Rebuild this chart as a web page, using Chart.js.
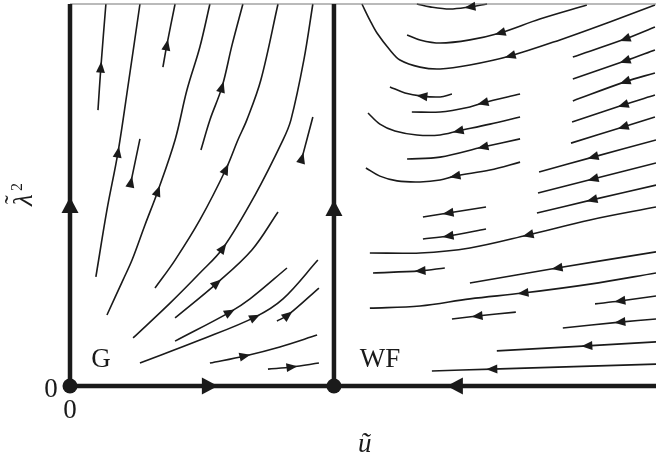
<!DOCTYPE html>
<html lang="en">
<head>
<meta charset="UTF-8" />
<title>RG flow diagram</title>
<script src="https://cdn.jsdelivr.net/npm/chart.js"></script>
<style>
  html, body { margin: 0; padding: 0; background: #fff; }
  #flow { display: block; }
</style>
</head>
<body>
<canvas id="flow" width="656" height="458"></canvas>
<script>
// plot ranges: u-tilde (x) and lambda-tilde squared (y)
const uRange = [0, 2.22];
const lamRange = [0, 1.447];

// fixed points G and WF
const fixedPoints = [[0, 0], [1, 0]];
const fixedNames = ['G', 'WF'];
const tickLabels = ['0', '0'];

// separatrices (middle point carries the arrow)
const axisG = [[0, 0], [0, 0.686], [0, 1.447]];
const axisWF = [[1, 0], [1, 0.674], [1, 1.447]];
const axisULeft = [[0, 0], [0.53, 0], [1, 0]];
const axisURight = [[2.22, 0], [1.458, 0], [1, 0]];
const frameTop = [[0, 1.447], [2.22, 1.447]];

// flow lines between G and WF (ordered along the flow)
const left1 = [[0.106, 1.045], [0.117, 1.208], [0.136, 1.447]];
const left2 = [[0.098, 0.413], [0.140, 0.667], [0.182, 0.886], [0.223, 1.159], [0.265, 1.447]];
const left3 = [[0.352, 1.208], [0.367, 1.292], [0.398, 1.447]];
const left4 = [[0.231, 0.773], [0.265, 0.936]];
const left5 = [[0.140, 0.269], [0.201, 0.402], [0.235, 0.477], [0.284, 0.610], [0.333, 0.739], [0.398, 0.932], [0.443, 1.121], [0.492, 1.284], [0.530, 1.447]];
const left6 = [[0.496, 0.894], [0.530, 1.008], [0.576, 1.133], [0.614, 1.292], [0.655, 1.447]];
const left7 = [[0.322, 0.371], [0.398, 0.477], [0.492, 0.629], [0.591, 0.822], [0.636, 0.932], [0.670, 1.008], [0.723, 1.159], [0.788, 1.447]];
const left8 = [[0.239, 0.182], [0.379, 0.314], [0.492, 0.428], [0.580, 0.523], [0.701, 0.723], [0.807, 0.932], [0.837, 1.008], [0.886, 1.235], [0.920, 1.447]];
const left9 = [[0.879, 0.864], [0.920, 1.019]];
const left10 = [[0.398, 0.258], [0.557, 0.390], [0.689, 0.515], [0.788, 0.659]];
const left11 = [[0.398, 0.170], [0.606, 0.280], [0.682, 0.330], [0.822, 0.447]];
const left12 = [[0.265, 0.087], [0.492, 0.174], [0.701, 0.261], [0.807, 0.330], [0.939, 0.477]];
const left13 = [[0.784, 0.246], [0.826, 0.269], [0.943, 0.371]];
const left14 = [[0.530, 0.087], [0.663, 0.114], [0.795, 0.148], [0.936, 0.193]];
const left15 = [[0.750, 0.064], [0.841, 0.072], [0.943, 0.087]];

// flow lines right of WF (ordered along the flow, right to left)
const right1 = [[1.580, 1.447], [1.515, 1.436], [1.439, 1.428], [1.364, 1.436], [1.314, 1.447]];
const right2 = [[1.958, 1.443], [1.780, 1.390], [1.629, 1.337], [1.515, 1.311], [1.402, 1.299], [1.326, 1.311], [1.277, 1.330]];
const right3 = [[2.216, 1.443], [2.045, 1.379], [1.856, 1.311], [1.667, 1.250], [1.515, 1.216], [1.402, 1.201], [1.326, 1.208], [1.250, 1.235], [1.212, 1.273], [1.163, 1.337], [1.136, 1.386], [1.106, 1.447]];
const right4 = [[1.447, 1.106], [1.402, 1.095], [1.333, 1.098], [1.269, 1.110], [1.212, 1.133]];
const right5 = [[1.705, 1.106], [1.564, 1.072], [1.515, 1.057], [1.402, 1.038], [1.295, 1.038]];
const right6 = [[1.705, 1.019], [1.591, 0.992], [1.470, 0.966], [1.402, 0.951], [1.314, 0.951], [1.231, 0.966], [1.174, 0.992], [1.129, 1.034]];
const right7 = [[1.705, 0.936], [1.564, 0.905], [1.402, 0.867], [1.277, 0.860]];
const right8 = [[2.216, 1.360], [2.102, 1.314], [1.905, 1.246]];
const right9 = [[2.216, 1.273], [2.102, 1.231], [1.905, 1.163]];
const right10 = [[2.216, 1.186], [2.102, 1.152], [1.905, 1.080]];
const right11 = [[2.216, 1.102], [2.095, 1.064], [1.902, 1.000]];
const right12 = [[2.216, 1.019], [2.095, 0.981], [1.898, 0.920]];
const right13 = [[2.220, 0.932], [1.981, 0.867], [1.777, 0.811]];
const right14 = [[2.220, 0.845], [1.981, 0.784], [1.773, 0.731]];
const right15 = [[2.220, 0.761], [1.977, 0.705], [1.769, 0.655]];
const right16 = [[2.220, 0.678], [1.970, 0.629], [1.735, 0.572], [1.515, 0.523], [1.326, 0.504], [1.136, 0.504]];
const right17 = [[1.705, 0.848], [1.591, 0.818], [1.458, 0.795], [1.402, 0.780], [1.326, 0.773], [1.239, 0.777], [1.174, 0.795], [1.121, 0.826]];
const right18 = [[1.576, 0.678], [1.432, 0.655], [1.337, 0.640]];
const right19 = [[1.576, 0.595], [1.432, 0.568], [1.337, 0.557]];
const right20 = [[1.420, 0.447], [1.326, 0.436], [1.148, 0.428]];
const right21 = [[2.220, 0.508], [1.845, 0.447], [1.515, 0.390]];
const right22 = [[2.220, 0.428], [1.970, 0.386], [1.716, 0.352], [1.515, 0.330], [1.326, 0.303], [1.136, 0.295]];
const right23 = [[2.220, 0.341], [2.083, 0.322], [1.989, 0.311]];
const right24 = [[1.689, 0.280], [1.542, 0.265], [1.447, 0.254]];
const right25 = [[2.220, 0.254], [2.083, 0.242], [1.867, 0.220]];
const right26 = [[2.220, 0.167], [1.958, 0.152], [1.617, 0.133]];
const right27 = [[2.220, 0.083], [1.598, 0.064], [1.371, 0.057]];

// [line, index of the point that carries the arrow]
const streams = [
  [left1, 1], [left2, 2], [left3, 1], [left4, 0], [left5, 4], [left6, 2], [left7, 3], [left8, 3],
  [left9, 0], [left10, 1], [left11, 1], [left12, 2], [left13, 1], [left14, 1], [left15, 1],
  [right1, 1], [right2, 2], [right3, 3], [right4, 2], [right5, 1], [right6, 2], [right7, 1],
  [right8, 1], [right9, 1], [right10, 1], [right11, 1], [right12, 1], [right13, 1], [right14, 1],
  [right15, 1], [right16, 2], [right17, 2], [right18, 1], [right19, 1], [right20, 1], [right21, 1],
  [right22, 2], [right23, 1], [right24, 1], [right25, 1], [right26, 1], [right27, 1]
];

const ink = '#1a1a1a';
const toXY = pts => pts.map(([x, y]) => ({ x, y }));

const datasets = [];
datasets.push({
  data: toXY(fixedPoints), showLine: false, pointRadius: 7.5,
  pointBackgroundColor: ink, pointBorderWidth: 0, clip: false
});
[axisG, axisWF, axisULeft, axisURight].forEach(line => {
  datasets.push({
    data: toXY(line), showLine: true, borderColor: ink, borderWidth: 4.5,
    pointRadius: 0, tension: 0, clip: false, arrowAt: 1, arrowLen: 16, arrowHalf: 8.5
  });
});
datasets.push({
  data: toXY(frameTop), showLine: true, borderColor: '#777', borderWidth: 1.2,
  pointRadius: 0, clip: false
});
streams.forEach(([line, a]) => {
  datasets.push({
    data: toXY(line), showLine: true, borderColor: ink, borderWidth: 1.6,
    pointRadius: 0, tension: 0.35, clip: false, arrowAt: a, arrowLen: 11, arrowHalf: 4.5
  });
});

// arrowheads drawn on top of the lines, pointing along the flow
const arrowPlugin = {
  id: 'flowArrows',
  afterDatasetsDraw(chart) {
    const ctx = chart.ctx;
    ctx.save();
    ctx.fillStyle = ink;
    chart.data.datasets.forEach((ds, i) => {
      if (ds.arrowAt === undefined) return;
      const pts = chart.getDatasetMeta(i).data;
      const a = ds.arrowAt;
      const p = pts[a];
      const from = pts[a - 1] || p;
      const to = pts[a + 1] || p;
      let dx = to.x - from.x, dy = to.y - from.y;
      const len = Math.hypot(dx, dy) || 1;
      dx /= len; dy /= len;
      const L = ds.arrowLen, H = ds.arrowHalf;
      const tipX = p.x + dx * L / 2, tipY = p.y + dy * L / 2;
      const bX = p.x - dx * L / 2, bY = p.y - dy * L / 2;
      ctx.beginPath();
      ctx.moveTo(tipX, tipY);
      ctx.lineTo(bX - dy * H, bY + dx * H);
      ctx.lineTo(bX + dy * H, bY - dx * H);
      ctx.closePath();
      ctx.fill();
    });
    ctx.restore();
  }
};

// tick labels, fixed point names and axis titles
const labelPlugin = {
  id: 'flowLabels',
  afterDraw(chart) {
    const { ctx, scales: { x, y } } = chart;
    const x0 = x.getPixelForValue(0), y0 = y.getPixelForValue(0);
    ctx.save();
    ctx.fillStyle = ink;
    ctx.textAlign = 'center';
    ctx.textBaseline = 'alphabetic';
    ctx.font = '27px "Liberation Serif", serif';
    ctx.fillText(tickLabels[0], x0 - 19, y0 + 11);
    ctx.fillText(tickLabels[1], x0, y0 + 32);
    ctx.fillText(fixedNames[0], x.getPixelForValue(0.117), y.getPixelForValue(0.072));
    ctx.fillText(fixedNames[1], x.getPixelForValue(1.174), y.getPixelForValue(0.072));
    ctx.font = 'italic 27px "Liberation Serif", serif';
    ctx.fillText('\u0169', x.getPixelForValue(1.117), y0 + 66);
    // y title: lambda with tilde and square, rotated
    ctx.translate(x0 - 38, y.getPixelForValue(0.72));
    ctx.rotate(-Math.PI / 2);
    ctx.textAlign = 'left';
    ctx.fillText('\u03BB', -10, 0);
    ctx.font = '26px "Liberation Serif", serif';
    ctx.fillText('\u02DC', -8, -10);
    ctx.font = '16px "Liberation Serif", serif';
    ctx.fillText('2', 5, -10);
    ctx.restore();
  }
};

new Chart(document.getElementById('flow'), {
  type: 'scatter',
  data: { datasets },
  options: {
    responsive: false,
    animation: false,
    devicePixelRatio: 1,
    layout: { autoPadding: false, padding: { left: 70, right: 0, top: 4, bottom: 72 } },
    plugins: { legend: { display: false }, tooltip: { enabled: false } },
    scales: {
      x: { type: 'linear', min: uRange[0], max: uRange[1], display: false },
      y: { type: 'linear', min: lamRange[0], max: lamRange[1], display: false }
    }
  },
  plugins: [arrowPlugin, labelPlugin]
});
</script>
</body>
</html>
